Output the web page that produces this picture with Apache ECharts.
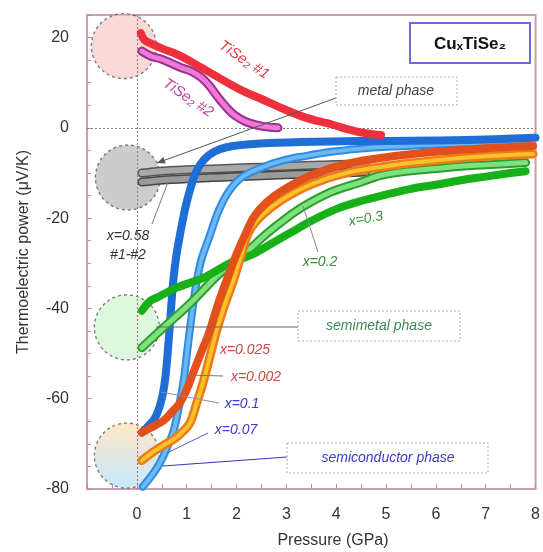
<!DOCTYPE html>
<html><head><meta charset="utf-8">
<script src="https://cdn.jsdelivr.net/npm/echarts/dist/echarts.min.js"></script>
<style>html,body{margin:0;padding:0;background:#fff}#c{width:543px;height:552px}</style>
</head><body><div id="c"></div>
<script>
// ---- data (Pressure GPa, Thermoelectric power µV/K) ----
const xTickLabels = [0,1,2,3,4,5,6,7,8];
const yTickLabels = [-80,-60,-40,-20,0,20];
const tise2_1 = [[0.08,21],[0.15,19.5],[0.3,18.6],[0.5,17.6],[0.8,16.3],[1.0,15.2],[1.3,13.3],[1.6,11.4],[1.9,9.5],[2.2,7.8],[2.5,6.4],[2.9,4.4],[3.3,2.6],[3.6,1.6],[3.9,0.8],[4.2,-0.2],[4.55,-1.1],[4.9,-1.6]];
const tise2_2 = [[0.1,17],[0.3,15.8],[0.5,15.2],[0.9,13.3],[1.1,12.5],[1.3,11.1],[1.45,9.4],[1.64,6.6],[1.8,4.5],[1.96,2.8],[2.2,1.3],[2.5,0.4],[2.83,0]];
const x058_1 = [[0.1,-10],[0.3,-9.8],[0.6,-9.5],[1,-9.3],[1.5,-9.1],[2,-8.9],[2.5,-8.7],[3,-8.5],[3.5,-8.3],[4,-8.1],[4.6,-8]];
const x058_2 = [[0.1,-12],[0.3,-11.8],[0.6,-11.5],[1,-11.3],[1.5,-11],[2,-10.8],[2.5,-10.6],[3,-10.4],[3.5,-10.2],[4,-10],[4.6,-9.8]];
const x01 = [[0.1,-67.5],[0.2,-66.4],[0.35,-64.5],[0.45,-62],[0.52,-59],[0.57,-55.5],[0.61,-51],[0.65,-45.5],[0.69,-39.5],[0.73,-34],[0.79,-28.5],[0.86,-24],[0.93,-20],[1.0,-16.5],[1.1,-12.5],[1.2,-9.5],[1.35,-7],[1.55,-5.3],[1.8,-4.3],[2.2,-3.7],[2.8,-3.3],[3.9,-3],[5,-2.9],[6,-2.8],[7,-2.6],[8,-2.2]];
const x007 = [[0.12,-79.5],[0.3,-77],[0.46,-74.3],[0.6,-71],[0.74,-67],[0.84,-62],[0.94,-56],[1.0,-50.5],[1.06,-45],[1.12,-40],[1.2,-34],[1.3,-29],[1.46,-24],[1.64,-18.4],[1.85,-14],[2.1,-11],[2.5,-8.8],[2.9,-7.3],[3.4,-6.2],[3.9,-5.3],[4.5,-4.6],[5,-4.2],[6,-3.7],[7,-3.3],[7.8,-3]];
const x0002 = [[0.1,-67.5],[0.3,-66.3],[0.54,-64.8],[0.7,-63],[0.86,-61],[1.0,-58],[1.14,-54],[1.3,-49.5],[1.46,-45],[1.63,-39],[1.8,-33.8],[2.0,-28],[2.2,-23],[2.36,-19.5],[2.6,-16.5],[2.9,-14],[3.5,-10.5],[4.2,-8],[5,-6.5],[6,-5.3],[7,-4.5],[7.95,-4]];
const x0025 = [[0.1,-73.7],[0.3,-72],[0.55,-70.2],[0.74,-69],[0.9,-67.5],[1.06,-65.5],[1.2,-61],[1.34,-56],[1.47,-50.5],[1.6,-45],[1.77,-39],[1.94,-33.8],[2.1,-28],[2.25,-23],[2.5,-19.5],[2.9,-16],[3.5,-12.5],[4.2,-10],[5,-8.5],[6,-7.2],[7,-6.3],[7.95,-5.8]];
const x03 = [[0.1,-40.5],[0.25,-38.5],[0.4,-37.6],[0.8,-35.4],[1.34,-33.2],[1.86,-30],[2.33,-28],[2.8,-25],[3.2,-22.5],[3.5,-20.6],[4,-18],[4.5,-16.2],[5,-14.8],[5.5,-13.5],[6,-12.6],[6.5,-11.6],[7,-10.8],[7.5,-10],[7.8,-9.6]];
const x02 = [[0.1,-48.7],[0.54,-44.2],[1.06,-39],[1.66,-32.3],[2.2,-27.5],[2.6,-23.5],[3,-20],[3.36,-17.3],[3.9,-14.2],[4.5,-12],[4.9,-10.5],[5.5,-9.5],[6,-9],[6.5,-8.5],[7,-8.2],[7.8,-7.7]];
const phaseCircles = [[-0.26,18.1],[-0.18,-11],[-0.2,-44.2],[-0.2,-72.6]];

const chart = echarts.init(document.getElementById('c'), null, {renderer:'canvas'});
const F = 'Liberation Sans, Arial, sans-serif';

function line(data, color, width, z) {
  return {type:'line', data, showSymbol:false, symbol:'none', smooth:0.35,
    lineStyle:{color, width, cap:'round', join:'round'}, z: z || 2, silent:true, animation:false};
}
const circleFills = ['rgba(248,190,190,0.75)','rgba(170,170,170,0.75)','rgba(200,242,200,0.8)',
  new echarts.graphic.LinearGradient(0,0,0,1,[{offset:0,color:'rgba(253,222,170,0.85)'},{offset:1,color:'rgba(170,220,250,0.85)'}])];

const series = [
  {type:'scatter', data: phaseCircles.map((p,i)=>({value:p, itemStyle:{color:circleFills[i]}})),
   symbol:'circle', symbolSize:65, z:1, silent:true, animation:false,
   itemStyle:{borderColor:'#555', borderWidth:1.3, borderType:[3,3]},
   markLine:{silent:true, symbol:'none', label:{show:false}, animation:false,
     lineStyle:{type:[2,2], width:1.2},
     data:[{xAxis:0, lineStyle:{color:'#b07880'}},{yAxis:0, lineStyle:{color:'#8a7a70'}}]}},
  line(x058_1,'#555',9,2), line(x058_1,'#a8a8a8',6,2),
  line(x058_2,'#444',9,2), line(x058_2,'#9a9a9a',6,2),
  line(x007,'#2f8ce0',8,3), line(x007,'#6cb8f4',4,3),
  line(x01,'#1e6ed6',8,3),
  line(x02,'#2aa02a',9,4), line(x02,'#7fe07f',5,4),
  line(x03,'#18b018',8,4),
  line(x0025,'#ee7a18',9,5), line(x0025,'#f8c22a',4,5),
  line(x0002,'#e2501c',8,5),
  line(tise2_2,'#9a3090',9,6), line(tise2_2,'#f078d8',5,6),
  line(tise2_1,'#ee2f3c',8,6)
];

const axisCol = '#c9a0a8';
const option = {
  backgroundColor:'#fff',
  animation:false,
  grid:{left:87, right:6, top:15, bottom:63, show:true, borderColor:axisCol, borderWidth:2},
  xAxis:{type:'value', min:-1, max:8, interval:1,
    axisLine:{show:true, onZero:false, lineStyle:{color:axisCol, width:2}},
    axisTick:{show:true, inside:true, length:5, lineStyle:{color:'#b89098'}},
    minorTick:{show:true, splitNumber:2, length:5, lineStyle:{color:'#b89098'}},
    splitLine:{show:false},
    axisLabel:{margin:18, fontSize:16, color:'#333', fontFamily:F,
      formatter:v=> xTickLabels.indexOf(v)>=0 ? String(v) : ''}},
  yAxis:{type:'value', min:-80, max:25, interval:20,
    axisLine:{show:true, onZero:false, lineStyle:{color:axisCol, width:2}},
    axisTick:{show:true, inside:true, length:5, lineStyle:{color:'#b89098'}},
    minorTick:{show:true, splitNumber:4, length:4, lineStyle:{color:'#b89098'}},
    splitLine:{show:false},
    axisLabel:{margin:18, fontSize:16, color:'#333', fontFamily:F,
      formatter:v=> yTickLabels.indexOf(v)>=0 ? String(v) : ''}},
  series
};
chart.setOption(option);

// ---- annotations ----
function txt(x,y,s,color,opts){
  opts = opts||{};
  return {type:'text', x, y, rotation:(opts.rot||0)*Math.PI/180, z:100,
    style:{text:s, fill:color, font:(opts.italic===false?'':'italic ')+(opts.bold?'bold ':'')+(opts.size||14)+'px '+F,
      align:'center', verticalAlign:'middle'}};
}
function seg(x1,y1,x2,y2,color,w,dash){
  return {type:'line', z:90, shape:{x1,y1,x2,y2}, style:{stroke:color, lineWidth:w||1, lineDash:dash||null}};
}
function arrowHead(x1,y1,x2,y2,color){
  const a=Math.atan2(y2-y1,x2-x1), L=8, W=3.5;
  const bx=x2-L*Math.cos(a), by=y2-L*Math.sin(a);
  return {type:'polygon', z:91, shape:{points:[[x2,y2],[bx+W*Math.sin(a),by-W*Math.cos(a)],[bx-W*Math.sin(a),by+W*Math.cos(a)]]}, style:{fill:color}};
}
function box(x,y,w,h,stroke,lw,dash){
  return {type:'rect', z:95, shape:{x,y,width:w,height:h}, style:{fill:'#fff', stroke, lineWidth:lw, lineDash:dash||null}};
}
const graphic = [
  {type:'text', x:333, y:541, z:100, style:{text:'Pressure (GPa)', font:'16px '+F, fill:'#333', align:'center', verticalAlign:'middle'}},
  {type:'text', x:24, y:252, rotation:Math.PI/2, z:100, style:{text:'Thermoelectric power (μV/K)', font:'16px '+F, fill:'#333', align:'center', verticalAlign:'middle'}},
  box(410,23,120,40,'#6a6ae0',2),
  txt(470,44,'CuₓTiSe₂','#111',{italic:false,bold:true,size:17}),
  txt(244,60,'TiSe₂ #1','#e23a48',{rot:-34,size:15}),
  txt(188,98,'TiSe₂ #2','#c043a6',{rot:-34,size:15}),
  seg(336,98,157,163,'#555',1), arrowHead(336,98,157,163,'#555'),
  box(336,77,121,28,'#aaa',1,[2,2]),
  txt(396,91,'metal phase','#444'),
  seg(152,224,168,182,'#777',1),
  txt(128,236,'x=0.58','#333'),
  txt(128,255,'#1-#2','#333'),
  seg(156,327,298,327,'#666',1.2),
  box(298,311,162,30,'#aaa',1,[2,2]),
  txt(379,326,'semimetal phase','#3a8a50'),
  seg(163,466,287,457,'#3434c0',1.2),
  box(287,443,201,30,'#aaa',1,[2,2]),
  txt(388,458,'semiconductor phase','#3a3ad0'),
  txt(245,350,'x=0.025','#c84848'),
  seg(223,376,189,375,'#777',1),
  txt(256,377,'x=0.002','#c84848'),
  seg(219,403,161,392,'#8a8ab0',1),
  txt(242,404,'x=0.1','#3a3ad0'),
  seg(208,433,167,453,'#5a5ad0',1),
  txt(236,430,'x=0.07','#3a3ad0'),
  txt(366,219,'x=0.3','#3a8a3a',{rot:10}),
  seg(318,252,303,206,'#888',1),
  txt(320,262,'x=0.2','#3a8a3a')
];
chart.setOption({graphic});
</script></body></html>
